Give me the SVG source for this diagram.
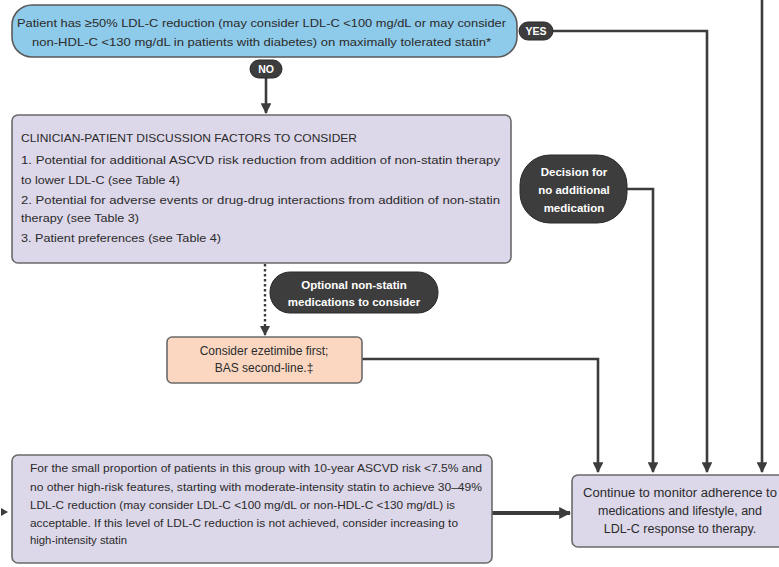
<svg xmlns="http://www.w3.org/2000/svg" width="779" height="567" viewBox="0 0 779 567">
<style>
.t{font-family:"Liberation Sans","Open Sans",sans-serif;font-size:11.5px;fill:#2b2b2b}
.w{font-family:"Liberation Sans","Open Sans",sans-serif;font-size:11.5px;fill:#fff;font-weight:bold;text-anchor:middle}
.s{font-size:10.5px}
.m{font-size:12.5px}
.e{font-size:12px}
.c{text-anchor:middle}
.box{fill:#dcd7e9;stroke:#6a6a6a;stroke-width:1.6}
.lbl{fill:#3d3d3d;stroke:#2a2a2a;stroke-width:1}
.ln{fill:none;stroke:#3c3c3c;stroke-width:2.6}
</style>
<defs>
<marker id="ah" viewBox="0 0 10 10" refX="9" refY="5" markerWidth="4.2" markerHeight="4.2" orient="auto" markerUnits="strokeWidth"><path d="M0,0 L10,5 L0,10 z" fill="#3c3c3c"/></marker>
<marker id="ah2" viewBox="0 0 10 10" refX="9" refY="5" markerWidth="3" markerHeight="3" orient="auto" markerUnits="strokeWidth"><path d="M0,0 L10,5 L0,10 z" fill="#3c3c3c"/></marker>
</defs>
<rect width="779" height="567" fill="#fff"/>
<g id="connectors">
<path class="ln" d="M266,78 V113" marker-end="url(#ah)"/>
<path class="ln" d="M553,31 H707 V472" marker-end="url(#ah)"/>
<path class="ln" d="M762,0 V472" marker-end="url(#ah)"/>
<path class="ln" d="M627,189 H653 V472" marker-end="url(#ah)"/>
<path class="ln" d="M362,359 H598 V472" marker-end="url(#ah)"/>
<path d="M265,264 V335" fill="none" stroke="#3c3c3c" stroke-width="2.4" stroke-dasharray="2.5,2.5" marker-end="url(#ah)"/>
<path d="M492,513 H570" fill="none" stroke="#3c3c3c" stroke-width="4" marker-end="url(#ah2)"/>
<path d="M1,508 L8,512 L1,516 z" fill="#3c3c3c"/>
</g>
<g id="start">
<rect x="12" y="5" width="505" height="52" rx="20" fill="#8ecae9" stroke="#5a5a5a" stroke-width="1.6"/>
<text class="t" x="17" y="27" textLength="489" lengthAdjust="spacingAndGlyphs">Patient has ≥50% LDL-C reduction  (may consider LDL-C &lt;100 mg/dL or may consider</text>
<text class="t" x="32" y="46" textLength="459" lengthAdjust="spacingAndGlyphs">non-HDL-C &lt;130 mg/dL in patients with diabetes) on maximally tolerated statin*</text>
</g>
<g id="no">
<rect class="lbl" x="250" y="60" width="32" height="18" rx="9"/>
<text class="w s" x="266" y="73">NO</text>
</g>
<g id="yes">
<rect class="lbl" x="519" y="22" width="34" height="18" rx="9"/>
<text class="w s" x="536" y="35">YES</text>
</g>
<g id="discussion">
<rect class="box" x="12" y="115" width="499" height="148" rx="6"/>
<text class="t" x="21" y="142" textLength="336" lengthAdjust="spacingAndGlyphs">CLINICIAN-PATIENT DISCUSSION FACTORS TO CONSIDER</text>
<text class="t" x="21" y="164" textLength="479" lengthAdjust="spacingAndGlyphs">1. Potential for additional ASCVD risk reduction from addition of non-statin therapy</text>
<text class="t" x="21" y="184" textLength="159" lengthAdjust="spacingAndGlyphs">to lower LDL-C (see Table 4)</text>
<text class="t" x="21" y="204" textLength="479" lengthAdjust="spacingAndGlyphs">2. Potential for adverse events or drug-drug interactions from addition of non-statin</text>
<text class="t" x="21" y="222" textLength="118" lengthAdjust="spacingAndGlyphs">therapy (see Table 3)</text>
<text class="t" x="21" y="242" textLength="200" lengthAdjust="spacingAndGlyphs">3. Patient preferences (see Table 4)</text>
</g>
<g id="decision">
<rect class="lbl" x="520" y="155" width="107" height="68" rx="30"/>
<text class="w" x="574" y="176">Decision for</text>
<text class="w" x="574" y="194">no additional</text>
<text class="w" x="574" y="212">medication</text>
</g>
<g id="optional">
<rect class="lbl" x="270" y="272" width="168" height="41" rx="20"/>
<text class="w" x="354" y="289">Optional non-statin</text>
<text class="w" x="354" y="306">medications to consider</text>
</g>
<g id="ezetimibe">
<rect x="167" y="337" width="195" height="46" rx="5" fill="#fbd7c2" stroke="#6a6a6a" stroke-width="1.6"/>
<text class="t e c" x="264" y="355">Consider ezetimibe first;</text>
<text class="t e c" x="264" y="372">BAS second-line.‡</text>
</g>
<g id="lowrisk">
<rect class="box" x="12" y="455" width="480" height="108" rx="6"/>
<text class="t" x="30" y="472" textLength="452" lengthAdjust="spacingAndGlyphs">For the small proportion of patients in this group with 10-year ASCVD risk &lt;7.5% and</text>
<text class="t" x="30" y="491" textLength="452" lengthAdjust="spacingAndGlyphs">no other high-risk features, starting with moderate-intensity statin to achieve 30–49%</text>
<text class="t" x="30" y="509" textLength="425" lengthAdjust="spacingAndGlyphs">LDL-C reduction (may consider LDL-C &lt;100 mg/dL or non-HDL-C &lt;130 mg/dL) is</text>
<text class="t" x="30" y="527" textLength="428" lengthAdjust="spacingAndGlyphs">acceptable. If this level of LDL-C reduction is not achieved, consider increasing to</text>
<text class="t" x="30" y="544" textLength="97" lengthAdjust="spacingAndGlyphs">high-intensity statin</text>
</g>
<g id="monitor">
<rect class="box" x="572" y="475" width="215" height="72" rx="6"/>
<text class="t m c" x="680" y="497" textLength="194" lengthAdjust="spacingAndGlyphs">Continue to monitor adherence to</text>
<text class="t m c" x="680" y="515">medications and lifestyle, and</text>
<text class="t m c" x="680" y="533">LDL-C response to therapy.</text>
</g>
</svg>
